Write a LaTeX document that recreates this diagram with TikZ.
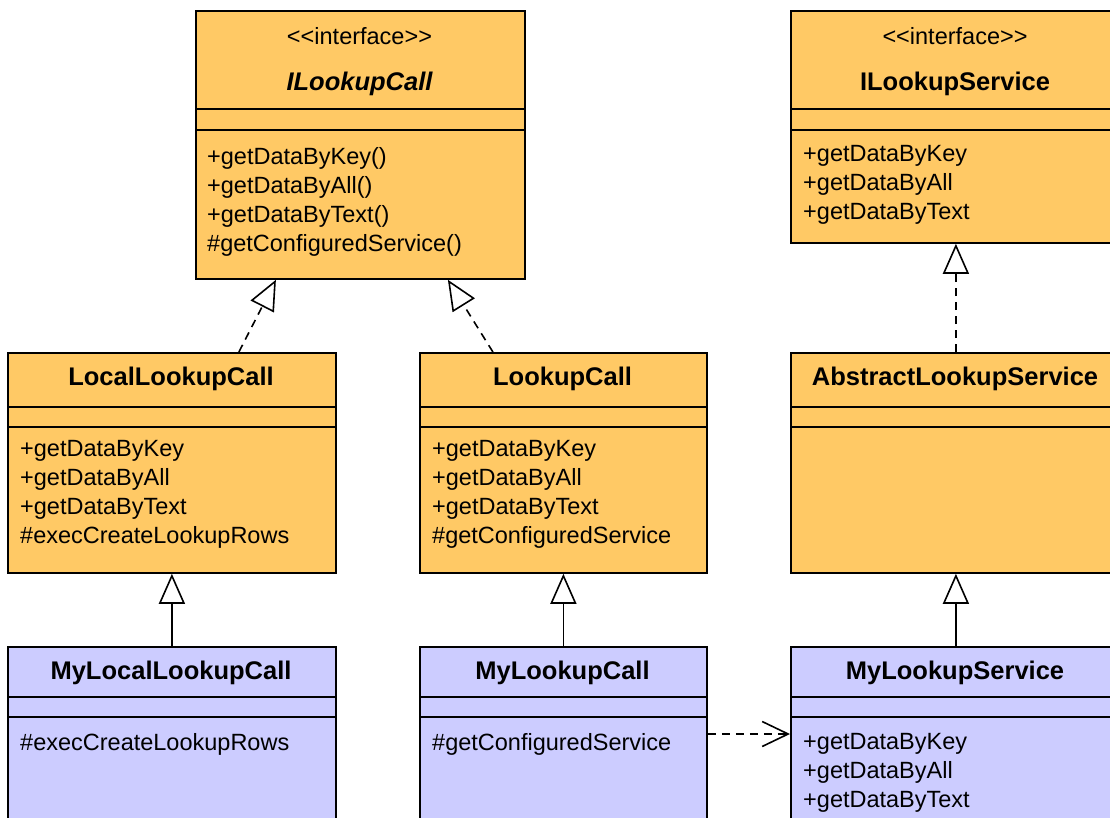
\documentclass[tikz,border=0pt]{standalone}
\usepackage{fontspec}
\setmainfont{Liberation Sans}
\usetikzlibrary{arrows.meta}
\definecolor{ifaceorange}{HTML}{FFC965}
\definecolor{mylilac}{HTML}{CCCCFF}
\begin{document}
\begin{tikzpicture}[
    x=1pt, y=-1pt,
    cls/.style={rectangle, draw, line width=1.8pt, anchor=north west, inner sep=0pt},
    base/.style={cls, fill=ifaceorange},
    mine/.style={cls, fill=mylilac},
    sep/.style={line width=1.8pt},
    title/.style={font=\fontsize{25.5}{30}\selectfont\bfseries},
    stereo/.style={font=\fontsize{23.5}{28}\selectfont},
    ops/.style={anchor=north west, align=left, inner sep=0pt, font=\fontsize{23.5}{29}\selectfont},
    realize/.style={-{Triangle[open, length=30pt, width=26pt]}, line width=1.6pt, dash pattern=on 8pt off 6pt},
    extend/.style={-{Triangle[open, length=30pt, width=26pt]}, line width=1.6pt},
    depend/.style={-{Straight Barb[length=26pt, width=25pt]}, line width=1.6pt, dash pattern=on 8pt off 6pt}
]
\useasboundingbox (0,0) rectangle (1110,818);

% Interfaces
\node[base, minimum width=329pt, minimum height=268pt] (ilc) at (195,10) {};
\node[stereo] at (359.5,36) {{<}{<}interface{>}{>}};
\node[title] (ilcname) at (359.5,84) {\itshape ILookupCall};
\draw[sep] ([yshift=-99pt]ilc.north west) -- ([yshift=-99pt]ilc.north east);
\draw[sep] ([yshift=-120pt]ilc.north west) -- ([yshift=-120pt]ilc.north east);
\node[ops] (ilcops) at (207,147) {+getDataByKey()\\+getDataByAll()\\+getDataByText()\\\#getConfiguredService()};

\node[base, minimum width=330pt, minimum height=232pt] (ils) at (790,10) {};
\node[stereo] at (955,36) {{<}{<}interface{>}{>}};
\node[title] (ilsname) at (955,84) {ILookupService};
\draw[sep] ([yshift=-99pt]ils.north west) -- ([yshift=-99pt]ils.north east);
\draw[sep] ([yshift=-120pt]ils.north west) -- ([yshift=-120pt]ils.north east);
\node[ops] (ilsops) at (803,145) {+getDataByKey\\+getDataByAll\\+getDataByText};

% Middle
\node[base, minimum width=328pt, minimum height=220pt] (llc) at (7,352) {};
\node[title] (llcname) at (171,379) {LocalLookupCall};
\draw[sep] ([yshift=-55pt]llc.north west) -- ([yshift=-55pt]llc.north east);
\draw[sep] ([yshift=-75pt]llc.north west) -- ([yshift=-75pt]llc.north east);
\node[ops] (llcops) at (20,440) {+getDataByKey\\+getDataByAll\\+getDataByText\\\#execCreateLookupRows};

\node[base, minimum width=287pt, minimum height=220pt] (lc) at (419,352) {};
\node[title] (lcname) at (562.5,379) {LookupCall};
\draw[sep] ([yshift=-55pt]lc.north west) -- ([yshift=-55pt]lc.north east);
\draw[sep] ([yshift=-75pt]lc.north west) -- ([yshift=-75pt]lc.north east);
\node[ops] (lcops) at (432,440) {+getDataByKey\\+getDataByAll\\+getDataByText\\\#getConfiguredService};

\node[base, minimum width=330pt, minimum height=220pt] (als) at (790,352) {};
\node[title] (alsname) at (955,379) {AbstractLookupService};
\draw[sep] ([yshift=-55pt]als.north west) -- ([yshift=-55pt]als.north east);
\draw[sep] ([yshift=-75pt]als.north west) -- ([yshift=-75pt]als.north east);

% Own classes
\node[mine, minimum width=328pt, minimum height=200pt] (mllc) at (7,646) {};
\node[title] (mllcname) at (171,673) {MyLocalLookupCall};
\draw[sep] ([yshift=-51pt]mllc.north west) -- ([yshift=-51pt]mllc.north east);
\draw[sep] ([yshift=-71pt]mllc.north west) -- ([yshift=-71pt]mllc.north east);
\node[ops] (mllcops) at (20,733) {\#execCreateLookupRows};

\node[mine, minimum width=287pt, minimum height=200pt] (mlc) at (419,646) {};
\node[title] (mlcname) at (562.5,673) {MyLookupCall};
\draw[sep] ([yshift=-51pt]mlc.north west) -- ([yshift=-51pt]mlc.north east);
\draw[sep] ([yshift=-71pt]mlc.north west) -- ([yshift=-71pt]mlc.north east);
\node[ops] (mlcops) at (432,733) {\#getConfiguredService};

\node[mine, minimum width=330pt, minimum height=200pt] (mls) at (790,646) {};
\node[title] (mlsname) at (955,673) {MyLookupService};
\draw[sep] ([yshift=-51pt]mls.north west) -- ([yshift=-51pt]mls.north east);
\draw[sep] ([yshift=-71pt]mls.north west) -- ([yshift=-71pt]mls.north east);
\node[ops] (mlsops) at (803,733) {+getDataByKey\\+getDataByAll\\+getDataByText};

% Arrows
\draw[realize] ([xshift=67pt]llc.north) -- ([xshift=-84.5pt]ilc.south);
\draw[realize] ([xshift=-70.5pt]lc.north) -- ([xshift=87.5pt]ilc.south);
\draw[realize] (als.north) -- (ils.south);
\draw[extend] (mllc.north) -- (llc.south);
\draw[extend] (mlc.north) -- (lc.south);
\draw[extend] (mls.north) -- (als.south);
\draw[depend] ([yshift=-88pt]mlc.north east) -- ([yshift=-88pt]mls.north west);
\end{tikzpicture}
\end{document}
